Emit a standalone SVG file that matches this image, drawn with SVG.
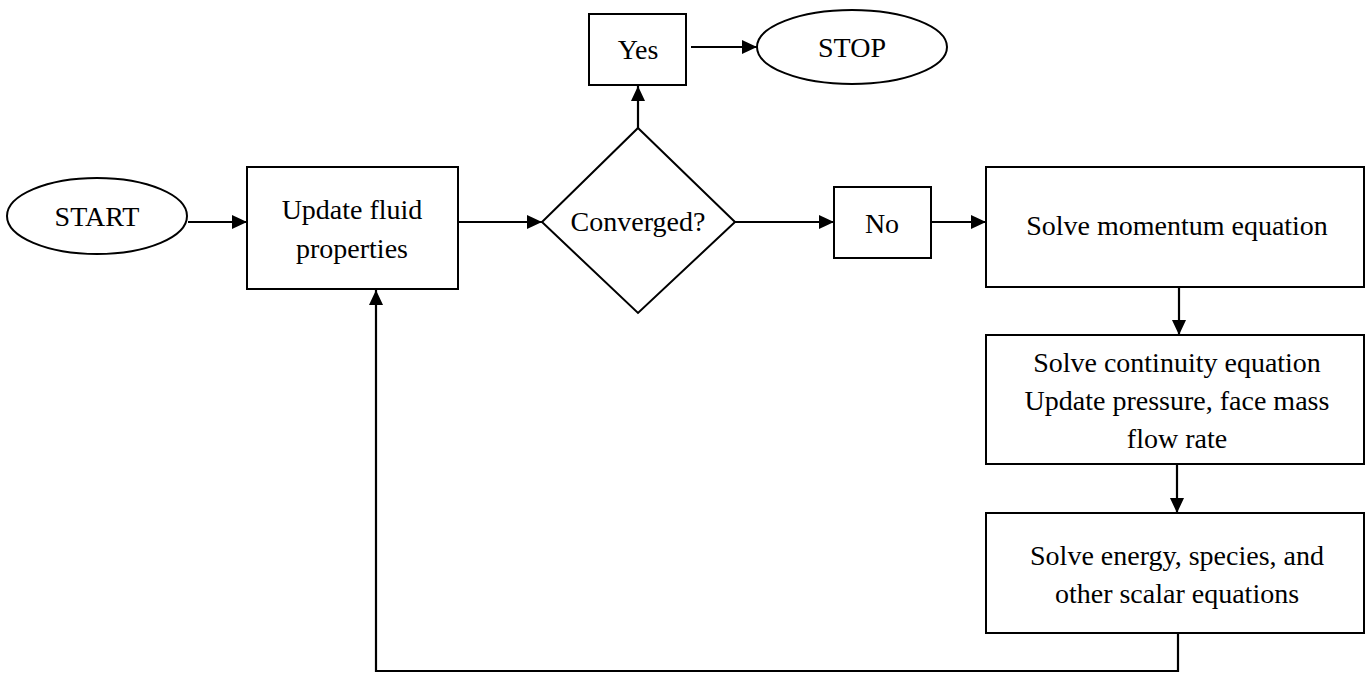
<svg xmlns="http://www.w3.org/2000/svg" width="1366" height="681" viewBox="0 0 1366 681">
<style>
.s{fill:#fff;stroke:#000;stroke-width:2}
.t{font-family:"Liberation Serif","Times New Roman",serif;font-size:28px;fill:#000;text-anchor:middle}
.c{fill:none;stroke:#000;stroke-width:2.2}
</style>
<defs>
<marker id="ah" viewBox="0 0 15 14" refX="15" refY="7" markerWidth="15" markerHeight="14" markerUnits="userSpaceOnUse" orient="auto">
<path d="M0,0 L15,7 L0,14 Z" fill="#000"/>
</marker>
</defs>
<rect width="1366" height="681" fill="#fff"/>
<g id="connectors">
<line class="c" x1="188" y1="222" x2="247" y2="222" marker-end="url(#ah)"/>
<line class="c" x1="458" y1="222" x2="542" y2="222" marker-end="url(#ah)"/>
<line class="c" x1="638" y1="128" x2="638" y2="86" marker-end="url(#ah)"/>
<line class="c" x1="691" y1="47" x2="757" y2="47" marker-end="url(#ah)"/>
<line class="c" x1="735" y1="222" x2="834" y2="222" marker-end="url(#ah)"/>
<line class="c" x1="931" y1="222" x2="986" y2="222" marker-end="url(#ah)"/>
<line class="c" x1="1179" y1="287" x2="1179" y2="335" marker-end="url(#ah)"/>
<line class="c" x1="1177" y1="464" x2="1177" y2="513" marker-end="url(#ah)"/>
<polyline class="c" points="1178,633 1178,671 376,671 376,290" marker-end="url(#ah)"/>
</g>
<g id="start">
<ellipse class="s" cx="97" cy="216" rx="90" ry="38"/>
<text class="t" x="97" y="226">START</text>
</g>
<g id="update">
<rect class="s" x="247" y="167" width="211" height="122"/>
<text class="t" x="352" y="219">Update fluid</text>
<text class="t" x="352" y="258">properties</text>
</g>
<g id="converged">
<polygon class="s" points="638,128 735,222 638,313 542,222"/>
<text class="t" x="638" y="231">Converged?</text>
</g>
<g id="yes">
<rect class="s" x="589" y="14" width="97" height="71"/>
<text class="t" x="638" y="59">Yes</text>
</g>
<g id="stop">
<ellipse class="s" cx="852" cy="47" rx="95" ry="37"/>
<text class="t" x="852" y="57">STOP</text>
</g>
<g id="no">
<rect class="s" x="834" y="187" width="97" height="71"/>
<text class="t" x="882" y="233">No</text>
</g>
<g id="momentum">
<rect class="s" x="986" y="167" width="378" height="120"/>
<text class="t" x="1177" y="235">Solve momentum equation</text>
</g>
<g id="continuity">
<rect class="s" x="986" y="335" width="378" height="129"/>
<text class="t" x="1177" y="372">Solve continuity equation</text>
<text class="t" x="1177" y="410">Update pressure, face mass</text>
<text class="t" x="1177" y="448">flow rate</text>
</g>
<g id="energy">
<rect class="s" x="986" y="513" width="378" height="120"/>
<text class="t" x="1177" y="565">Solve energy, species, and</text>
<text class="t" x="1177" y="603">other scalar equations</text>
</g>
</svg>
